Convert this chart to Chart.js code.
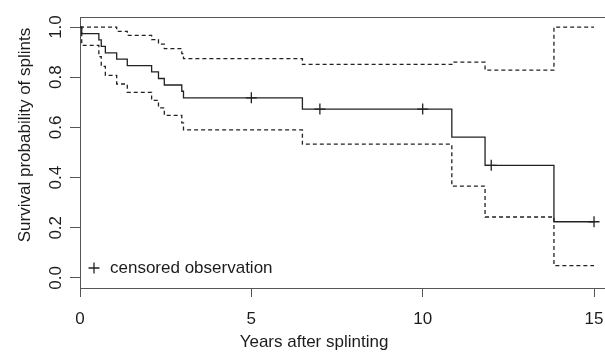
<!DOCTYPE html>
<html>
<head>
<meta charset="utf-8">
<script src="https://cdn.jsdelivr.net/npm/chart.js@4"></script>
<style>
  html, body { margin: 0; padding: 0; background: #ffffff; overflow: hidden; }
  #wrap { width: 605px; height: 355px; position: relative; }
</style>
</head>
<body>
<div id="wrap"><canvas id="c" width="605" height="355"></canvas></div>
<script>
// ---- data ----
const kmTime  = [0, 0.05, 0.55, 0.62, 0.74, 1.07, 1.38, 2.09, 2.29, 2.46, 2.97, 3.02, 6.49, 10.85, 11.82, 13.83, 15];
const kmSurv  = [1, 0.974, 0.949, 0.923, 0.897, 0.872, 0.846, 0.821, 0.795, 0.769, 0.744, 0.718, 0.673, 0.561, 0.449, 0.224, 0.224];

const upperTime = [0, 1.07, 1.38, 2.09, 2.29, 2.46, 2.97, 3.02, 6.49, 10.85, 11.82, 13.83, 15];
const upperVals = [1, 0.983, 0.967, 0.950, 0.932, 0.914, 0.894, 0.874, 0.851, 0.860, 0.828, 1.0, 1.0];

const lowerTime = [0, 0.05, 0.55, 0.62, 0.74, 1.07, 1.38, 2.09, 2.29, 2.46, 2.97, 3.02, 6.49, 10.85, 11.82, 13.83, 15];
const lowerVals = [1, 0.927, 0.882, 0.843, 0.807, 0.773, 0.740, 0.708, 0.678, 0.648, 0.618, 0.590, 0.533, 0.366, 0.243, 0.049, 0.049];

const censorTime = [5, 7, 10, 12, 15];
const censorSurv = [0.718, 0.673, 0.673, 0.449, 0.224];

const xTickValues = [0, 5, 10, 15];
const xTickLabels = ['0', '5', '10', '15'];
const yTickValues = [0, 0.2, 0.4, 0.6, 0.8, 1.0];
const yTickLabels = ['0.0', '0.2', '0.4', '0.6', '0.8', '1.0'];

const xTitle = 'Years after splinting';
const yTitle = 'Survival probability of splints';
const legendText = 'censored observation';

// ---- styling ----
const FONT = '"Liberation Sans", Arial, Helvetica, sans-serif';
const TEXT = '#1c1c1c';
const AXIS = '#555555';
const LINE = '#222222';

const toPts = (xs, ys) => xs.map((x, i) => ({ x: x, y: ys[i] }));

const layoutText = {
  xTitle: { x: 314, y: 342 },
  yTitle: { x: 25, y: 135 },
  legend: { markX: 94, textX: 110, y: 268 }
};

const textPlugin = {
  id: 'textPlugin',
  afterDraw(chart) {
    const ctx = chart.ctx;
    ctx.save();
    ctx.fillStyle = TEXT;
    ctx.font = '17px ' + FONT;
    ctx.textBaseline = 'middle';
    ctx.textAlign = 'center';
    ctx.fillText(xTitle, layoutText.xTitle.x, layoutText.xTitle.y);
    ctx.save();
    ctx.translate(layoutText.yTitle.x, layoutText.yTitle.y);
    ctx.rotate(-Math.PI / 2);
    ctx.fillText(yTitle, 0, 0);
    ctx.restore();
    const L = layoutText.legend;
    ctx.strokeStyle = LINE;
    ctx.lineWidth = 1.3;
    ctx.beginPath();
    ctx.moveTo(L.markX - 5.5, L.y); ctx.lineTo(L.markX + 5.5, L.y);
    ctx.moveTo(L.markX, L.y - 5.5); ctx.lineTo(L.markX, L.y + 5.5);
    ctx.stroke();
    ctx.textAlign = 'left';
    ctx.fillText(legendText, L.textX, L.y);
    ctx.restore();
  }
};

const X_MIN = 0, X_MAX = 15.32, Y_MIN = -0.04, Y_MAX = 1.04;
const noSidePad = (s) => { s.paddingLeft = 0; s.paddingRight = 0; };

new Chart(document.getElementById('c'), {
  type: 'line',
  data: {
    datasets: [
      {
        label: 'upper',
        data: toPts(upperTime, upperVals),
        stepped: 'before',
        borderColor: LINE, borderWidth: 1.3, borderDash: [4, 3],
        pointRadius: 0, fill: false
      },
      {
        label: 'lower',
        data: toPts(lowerTime, lowerVals),
        stepped: 'before',
        borderColor: LINE, borderWidth: 1.3, borderDash: [4, 3],
        pointRadius: 0, fill: false
      },
      {
        label: 'survival',
        data: toPts(kmTime, kmSurv),
        stepped: 'before',
        borderColor: LINE, borderWidth: 1.3,
        pointRadius: 0, fill: false
      },
      {
        label: 'censored observation',
        data: toPts(censorTime, censorSurv),
        showLine: false,
        pointStyle: 'cross',
        pointRadius: 5.5,
        pointBorderWidth: 1.3,
        pointBorderColor: LINE,
        borderColor: LINE
      }
    ]
  },
  options: {
    responsive: false,
    animation: false,
    events: [],
    layout: { autoPadding: false, padding: { top: 17, right: 0, left: 0, bottom: 0 } },
    plugins: { legend: { display: false }, tooltip: { enabled: false }, title: { display: false } },
    scales: {
      x: {
        type: 'linear', position: 'bottom', min: X_MIN, max: X_MAX,
        afterBuildTicks: (s) => { s.ticks = xTickValues.map(v => ({ value: v })); },
        afterFit: (s) => { s.height = 67; noSidePad(s); },
        ticks: {
          callback: (v) => xTickLabels[xTickValues.indexOf(v)],
          font: { family: FONT, size: 17 }, color: TEXT, padding: 12, maxRotation: 0, autoSkip: false
        },
        grid: { display: true, drawOnChartArea: false, drawTicks: true, tickLength: 9, tickColor: AXIS, color: AXIS },
        border: { display: true, color: AXIS, width: 1 }
      },
      xTop: {
        type: 'linear', position: 'top', min: X_MIN, max: X_MAX,
        afterFit: (s) => { s.height = 0; noSidePad(s); },
        ticks: { display: false },
        grid: { display: true, drawOnChartArea: false, drawTicks: false, color: AXIS },
        border: { display: true, color: AXIS, width: 1 }
      },
      y: {
        type: 'linear', position: 'left', min: Y_MIN, max: Y_MAX,
        afterBuildTicks: (s) => { s.ticks = yTickValues.map(v => ({ value: v })); },
        afterFit: (s) => { s.width = 80; s.paddingTop = 0; s.paddingBottom = 0; },
        ticks: {
          callback: (v) => yTickLabels[yTickValues.findIndex(t => Math.abs(t - v) < 1e-9)],
          font: { family: FONT, size: 17 }, color: TEXT, padding: 2,
          minRotation: 90, maxRotation: 90, crossAlign: 'center', autoSkip: false
        },
        grid: { display: true, drawOnChartArea: false, drawTicks: true, tickLength: 10, tickColor: AXIS, color: AXIS },
        border: { display: true, color: AXIS, width: 1 }
      }
    }
  },
  plugins: [textPlugin]
});
</script>
</body>
</html>
